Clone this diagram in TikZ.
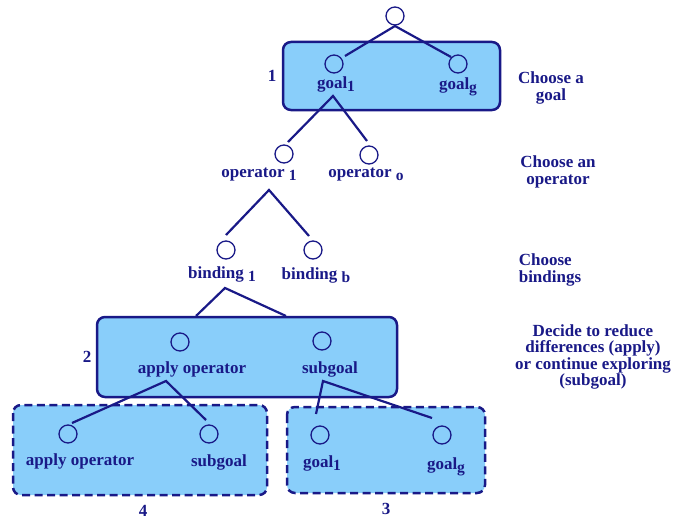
\documentclass[tikz,border=0pt]{standalone}
\usepackage{fontspec}
\setmainfont{Liberation Serif}
\definecolor{navy}{RGB}{25,25,135}
\definecolor{skyfill}{RGB}{137,206,250}
\begin{document}
\begin{tikzpicture}[x=1pt,y=-1pt,
  every node/.style={text=navy,font=\bfseries\fontsize{17}{17}\selectfont},
  leaf/.style={circle,draw=navy,line width=1.3pt,minimum size=18pt,inner sep=0pt},
  lbl/.style={inner sep=0pt,anchor=base},
  link/.style={draw=navy,line width=2.2pt},
  solidbox/.style={draw=navy,line width=2.5pt,fill=skyfill,rounded corners=8pt},
  dashbox/.style={draw=navy,line width=2.5pt,fill=skyfill,rounded corners=8pt,dash pattern=on 8pt off 4.5pt},
  note/.style={inner sep=0pt,align=center,font=\bfseries\fontsize{17}{16.3}\selectfont}]
\newcommand{\sbs}[1]{\raisebox{-0.45ex}{\fontsize{15.5}{15.5}\selectfont #1}}
\useasboundingbox (0,0) rectangle (687,519);
% boxes
\draw[solidbox] (283,42) rectangle (500,110);
\draw[solidbox] (97,317) rectangle (397,397);
\draw[dashbox] (13,405) rectangle (267,495);
\draw[dashbox] (287,407) rectangle (485,493);
% circles
\node[leaf] (top) at (395,16) {};
\node[leaf] (g1) at (334,64) {};
\node[leaf] (gg) at (458,64) {};
\node[leaf] (o1) at (284,154) {};
\node[leaf] (oo) at (369,155) {};
\node[leaf] (b1) at (226,250) {};
\node[leaf] (bb) at (313,250) {};
\node[leaf] (ap) at (180,342) {};
\node[leaf] (sg) at (322,341) {};
\node[leaf] (ap2) at (68,434) {};
\node[leaf] (sg2) at (209,434) {};
\node[leaf] (g1b) at (320,435) {};
\node[leaf] (ggb) at (442,435) {};
% labels
\node[lbl] (lg1) at (336,88) {goal\sbs{1}};
\node[lbl] (lgg) at (458,89) {goal\sbs{g}};
\node[lbl] (lo1) at (259,177) {operator \sbs{1}};
\node[lbl] (loo) at (366,177) {operator \sbs{o}};
\node[lbl] (lb1) at (222,278) {binding \sbs{1}};
\node[lbl] (lbb) at (316,279) {binding \sbs{b}};
\node[lbl] (lap) at (192,373) {apply operator};
\node[lbl] (lsg) at (330,373) {subgoal};
\node[lbl] (lap2) at (80,465) {apply operator};
\node[lbl] (lsg2) at (219,466) {subgoal};
\node[lbl] (lg1b) at (322,467) {goal\sbs{1}};
\node[lbl] (lggb) at (446,469) {goal\sbs{g}};
% box numbers
\node[lbl] (n1) at (272,81) {1};
\node[lbl] (n2) at (87,362) {2};
\node[lbl] (n4) at (143,516) {4};
\node[lbl] (n3) at (386,514) {3};
% notes
\node[note] (c1) at (551,88) {Choose a\\goal};
\node[note] (c2) at (558,172) {Choose an\\operator};
\node[note,align=left] (c3) at (550,270) {Choose\\bindings};
\node[note] (c4) at (593,357) {Decide to reduce\\differences (apply)\\or continue exploring\\(subgoal)};
% apex coordinates
\coordinate (a0) at (395,26);
\coordinate (a1) at (333,96);
\coordinate (a2) at (269,190);
\coordinate (a3) at (225,288);
\coordinate (a4) at (166,381);
\coordinate (a5) at (323,381);
\draw[link] (345,56) -- (a0) -- (451,57);
\draw[link] (288,142) -- (a1) -- (367,141);
\draw[link] (226,235) -- (a2) -- (309,236);
\draw[link] (196,316) -- (a3) -- (286,316);
\draw[link] (72,423) -- (a4) -- (206,420);
\draw[link] (316,414) -- (a5) -- (432,418);
\end{tikzpicture}
\end{document}
